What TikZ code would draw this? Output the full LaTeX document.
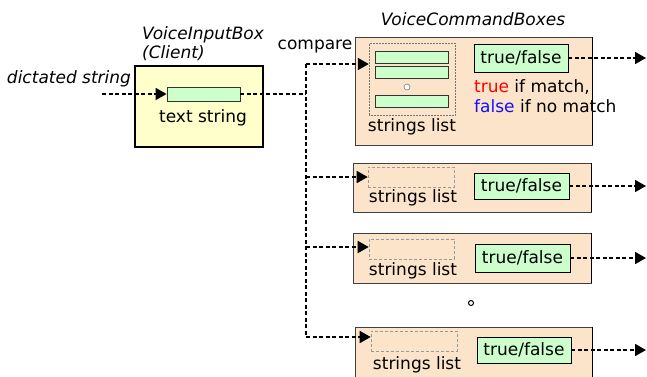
\documentclass[tikz,border=0pt]{standalone}
\usepackage{fontspec}
\setmainfont{DejaVu Sans}
\newfontfamily\slfont{DejaVu Sans Oblique}
\usetikzlibrary{arrows.meta,fit}
\definecolor{peach}{HTML}{FCE4CA}
\definecolor{paleyellow}{HTML}{FFFFCC}
\definecolor{palegreen}{HTML}{CCFFCC}
\definecolor{truered}{HTML}{FF0000}
\definecolor{falseblue}{HTML}{1010FF}
\tikzset{
  lbl/.style={font=\fontsize{17}{19}\selectfont, inner sep=0pt},
  ilbl/.style={font=\fontsize{17}{19}\selectfont\slfont, inner sep=0pt},
  clientbox/.style={draw=black, line width=1.2pt, fill=paleyellow, inner sep=0pt},
  cmdbox/.style={draw=black!75, line width=0.6pt, fill=peach, inner sep=0pt},
  bar/.style={draw=black!80, line width=0.8pt, fill=palegreen, inner sep=0pt},
  tfbox/.style={draw=black, line width=0.8pt, fill=palegreen, inner sep=0pt},
  listdotted/.style={draw=black!55, densely dotted, line width=0.5pt, inner sep=0pt},
  listdashed/.style={draw=black!40, dash pattern=on 3pt off 2pt, line width=0.6pt, inner sep=0pt},
  flow/.style={line width=1.7pt, dash pattern=on 4pt off 2.5pt},
  flowarrow/.style={flow, -{Triangle[length=11pt,width=12pt]}},
  rightedge/.style={line width=1.6pt, black},
}
\begin{document}
\begin{tikzpicture}[x=1pt,y=-1pt]
\useasboundingbox (0,0) rectangle (647,376);

% ---- client box ----
\node[ilbl, anchor=west] (cname) at (142,35) {VoiceInputBox};
\node[ilbl, anchor=west] (cname2) at (142,53) {(Client)};
\node[clientbox, fit={(135,66) (263,147)}] (client) {};
\node[bar, fit={(167,87) (240,101)}] (tb) {};
\node[lbl] (tblabel) at (203,118) {text string};
\node[ilbl] (dict) at (69,79) {dictated string};
\coordinate (din) at (102,94);
\draw[flowarrow] (din) -- (tb.west);

% ---- command boxes ----
\node[ilbl] (cmdname) at (473,19) {VoiceCommandBoxes};
\node[lbl] (cmp) at (315,47) {compare};

% box 1
\node[cmdbox, fit={(355,37) (592,145)}] (b1) {};
\draw[rightedge] (b1.north east) -- (b1.south east);
\node[listdotted, fit={(369,43) (455,115)}] (sl1) {};
\node[bar, fit={(375,51) (448,63)}] (s1a) {};
\node[bar, fit={(375,66) (448,78)}] (s1b) {};
\node[bar, fit={(375,95) (448,107)}] (s1c) {};
\node[circle, draw=black!50, fill=white, line width=0.6pt, minimum size=6pt, inner sep=0pt] (s1dot) at (407,87) {};
\node[lbl] (sl1lbl) at (412,127) {strings list};
\node[tfbox, fit={(474,44) (568,72)}] (tf1) {};
\node[lbl] at (tf1.center) {true/false};
\node[lbl, anchor=west] (m1) at (474,87) {\textcolor{truered}{true} if match,};
\node[lbl, anchor=west] (m2) at (474,106) {\textcolor{falseblue}{false} if no match};

% box 2
\node[cmdbox, fit={(353,163) (591,212)}] (b2) {};
\draw[rightedge] (b2.north east) -- (b2.south east);
\node[listdashed, fit={(368,167) (454,187)}] (sl2) {};
\node[lbl] (sl2lbl) at (413,198) {strings list};
\node[tfbox, fit={(474,173) (569,199)}] (tf2) {};
\node[lbl] at (tf2.center) {true/false};

% box 3
\node[cmdbox, fit={(353,233) (591,283)}] (b3) {};
\draw[rightedge] (b3.north east) -- (b3.south east);
\node[listdashed, fit={(369,239) (454,259)}] (sl3) {};
\node[lbl] (sl3lbl) at (413,271) {strings list};
\node[tfbox, fit={(475,244) (570,272)}] (tf3) {};
\node[lbl] at (tf3.center) {true/false};

% ellipsis between boxes
\node[circle, draw=black, fill=white, line width=1pt, minimum size=5pt, inner sep=0pt] (gap) at (471,303) {};

% box 4 (runs off the bottom edge)
\node[cmdbox, fit={(355,327) (592,384)}] (b4) {};
\draw[rightedge] (b4.north east) -- (b4.south east);
\node[listdashed, fit={(371,331) (457,351)}] (sl4) {};
\node[lbl] (sl4lbl) at (417,365) {strings list};
\node[tfbox, fit={(477,337) (571,363)}] (tf4) {};
\node[lbl] at (tf4.center) {true/false};

% ---- distribution bus ----
\coordinate (j0) at (306,94);
\coordinate (j1) at (306,64);
\coordinate (j2) at (306,177);
\coordinate (j3) at (306,247);
\coordinate (j4) at (306,337);
\draw[flow] (tb.east) -- (j0);
\draw[flow] (j1) -- (j4);
\draw[flowarrow] (j1) -- (j1 -| sl1.west);
\draw[flowarrow] (j2) -- (j2 -| sl2.west);
\draw[flowarrow] (j3) -- (j3 -| sl3.west);
\draw[flowarrow] (j4) -- (j4 -| sl4.west);

% ---- results ----
\coordinate (o1) at (646,58);
\coordinate (o2) at (646,186);
\coordinate (o3) at (646,258);
\coordinate (o4) at (646,350);
\draw[flowarrow] (tf1.east) -- (o1);
\draw[flowarrow] (tf2.east) -- (o2);
\draw[flowarrow] (tf3.east) -- (o3);
\draw[flowarrow] (tf4.east) -- (o4);
\end{tikzpicture}
\end{document}
